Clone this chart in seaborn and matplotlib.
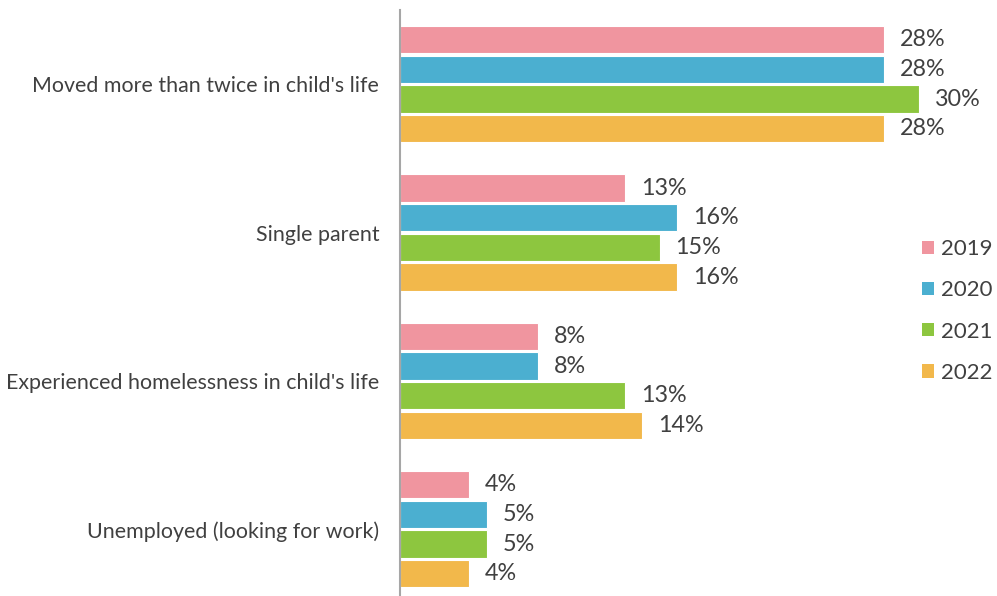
import matplotlib
matplotlib.use("Agg")
import matplotlib.pyplot as plt
from matplotlib.patches import Patch
import pandas as pd
import seaborn as sns

categories = [
    "Moved more than twice in child's life",
    "Single parent",
    "Experienced homelessness in child's life",
    "Unemployed (looking for work)",
]
years = ["2019", "2020", "2021", "2022"]
values_2019 = [28, 13, 8, 4]
values_2020 = [28, 16, 8, 5]
values_2021 = [30, 15, 13, 5]
values_2022 = [28, 16, 14, 4]
colors = ["#F0959F", "#4BAFD0", "#8DC63F", "#F2B84B"]

series = [values_2019, values_2020, values_2021, values_2022]
rows = []
for year, vals in zip(years, series):
    for cat, v in zip(categories, vals):
        rows.append({"category": cat, "year": year, "value": v})
df = pd.DataFrame(rows)

sns.set_style("white")
plt.rcParams["font.family"] = ["Lato", "DejaVu Sans"]
text_color = "#404040"

W, H = 997, 596
fig = plt.figure(figsize=(W / 100, H / 100), dpi=100)
ax = fig.add_axes([400 / W, (H - 603.5) / H, 519 / W, 593.5 / H])

sns.barplot(
    data=df, y="category", x="value", hue="year", orient="h",
    palette=colors, hue_order=years, order=categories, saturation=1,
    width=0.8, gap=0.08, edgecolor="white", linewidth=0.8,
    legend=False, ax=ax,
)

ax.set_xlim(0, 30)
ax.set_ylim(3.5, -0.5)
ax.set_xlabel("")
ax.set_ylabel("")
ax.set_xticks([])
ax.tick_params(axis="y", length=0, pad=15, labelsize=15.4, labelcolor=text_color)

for side in ["top", "right", "bottom"]:
    ax.spines[side].set_visible(False)
ax.spines["left"].set_color("#A6A6A6")
ax.spines["left"].set_linewidth(1.5)

for container, vals in zip(ax.containers, series):
    labels = ax.bar_label(container, labels=[f"{v}%" for v in vals],
                          padding=11.5, fontsize=16.8, color=text_color)
    for t in labels:
        t.set_clip_on(False)

handles = [Patch(facecolor=c, edgecolor="none") for c in colors]
fig.legend(
    handles, years, loc="center left",
    bbox_to_anchor=(922 / W, 1 - 311 / H),
    frameon=False, fontsize=16, labelcolor=text_color,
    handlelength=0.55, handleheight=0.55, handletextpad=0.3,
    labelspacing=0.95, borderpad=0, borderaxespad=0,
)

fig.savefig("out.png", dpi=100)
